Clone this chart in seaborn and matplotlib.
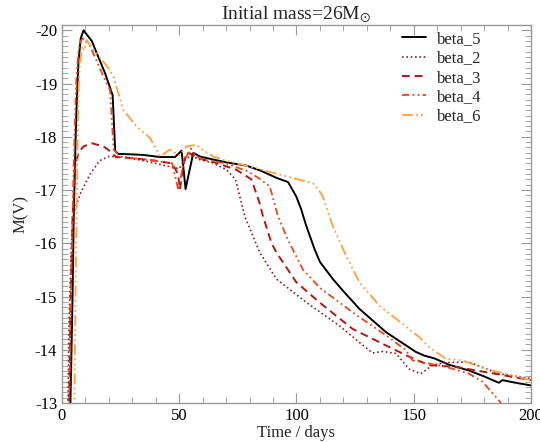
import numpy as np
import pandas as pd
import matplotlib
matplotlib.use("Agg")
import matplotlib.pyplot as plt
from matplotlib.ticker import MultipleLocator
import seaborn as sns

# ---- data ----
beta_5_t = [3.5, 4.5, 5.0, 6.0, 7.0, 8.0, 9.2, 12.7, 15.5, 18.4, 21.6, 22.7, 24.0, 30, 34.7, 41.8, 48.2, 51.0, 52.7, 54.3, 56.0, 58.8, 70, 78.6, 85, 91.4, 96.4, 99.9, 102, 104, 107.7, 110, 115.5, 120, 126.8, 138.2, 150.9, 154.5, 158.7, 165, 173.6, 180, 186.3, 187.8, 193.5, 200]
beta_5_m = [-12.8, -15.0, -16.5, -18.3, -19.4, -19.85, -20.0, -19.8, -19.5, -19.19, -18.78, -17.73, -17.68, -17.67, -17.66, -17.62, -17.62, -17.74, -17.02, -17.35, -17.7, -17.63, -17.52, -17.46, -17.36, -17.23, -17.15, -16.88, -16.64, -16.35, -15.89, -15.65, -15.33, -15.1, -14.77, -14.33, -13.96, -13.89, -13.84, -13.72, -13.61, -13.5, -13.38, -13.43, -13.38, -13.33]

beta_2_t = [2.5, 3.0, 4.0, 5.2, 8, 12, 16, 20, 25, 35, 45, 50, 52, 55, 58, 64.3, 70.2, 74, 76, 77.9, 84.3, 91.4, 104.2, 118.3, 126.8, 132.5, 136.7, 142.4, 148, 153, 158, 163.7, 173.6, 186.3, 200]
beta_2_m = [-12.8, -14.5, -16.0, -16.6, -16.95, -17.3, -17.55, -17.63, -17.63, -17.55, -17.45, -17.4, -17.55, -17.65, -17.58, -17.51, -17.38, -17.2, -16.85, -16.51, -15.83, -15.33, -14.89, -14.45, -14.14, -13.94, -13.97, -13.93, -13.64, -13.55, -13.71, -13.76, -13.77, -13.55, -13.46]

beta_3_t = [3.0, 3.5, 4.5, 5.5, 7, 9.2, 12.7, 17.7, 20.5, 23, 30, 40, 47, 49.5, 50.3, 51.5, 53, 55, 58, 65, 74.4, 80.8, 84.3, 85.7, 89.3, 91.4, 99.9, 109.8, 124, 138.2, 148, 156.6, 167.9, 180.7, 200]
beta_3_m = [-12.8, -14.5, -16.5, -17.4, -17.7, -17.82, -17.88, -17.82, -17.73, -17.62, -17.6, -17.55, -17.5, -17.3, -17.01, -17.4, -17.7, -17.68, -17.6, -17.52, -17.38, -17.2, -16.75, -16.51, -16.01, -15.83, -15.27, -14.89, -14.39, -14.08, -13.87, -13.71, -13.68, -13.58, -13.43]

beta_4_t = [3.0, 4.0, 5.0, 6.0, 7.0, 8.0, 9.0, 12, 15, 18, 20.5, 22.0, 25, 30, 40, 47, 49.6, 50.5, 52, 55, 57, 60, 70, 79.3, 84, 88.6, 92.1, 96.3, 102.7, 109.8, 124, 138.2, 146.7, 149.5, 156.6, 163.7, 173.6, 179.3, 186.3, 188]
beta_4_m = [-12.8, -15.5, -17.5, -19.0, -19.6, -19.8, -19.85, -19.7, -19.4, -19.1, -18.88, -17.76, -17.62, -17.6, -17.55, -17.5, -17.0, -17.2, -17.55, -17.78, -17.65, -17.57, -17.5, -17.35, -17.22, -17.07, -16.51, -16.07, -15.51, -15.17, -14.7, -14.27, -13.99, -13.8, -13.74, -13.68, -13.55, -13.4, -13.05, -12.95]

beta_6_t = [5.2, 6.0, 7.0, 7.5, 8.5, 9.5, 10.5, 12, 14.9, 20.5, 21.9, 26.2, 31.9, 37.5, 41.1, 41.8, 46, 50, 53.1, 57.4, 60, 64.5, 70, 82.9, 92.8, 107, 109.8, 111.2, 115.5, 121.2, 126.8, 135.3, 148, 152.3, 156.6, 163.7, 170.7, 180.7, 200]
beta_6_m = [-12.8, -16.0, -18.8, -19.3, -19.7, -19.62, -19.82, -19.72, -19.56, -19.25, -19.13, -18.5, -18.19, -17.98, -17.7, -17.63, -17.76, -17.65, -17.82, -17.85, -17.75, -17.63, -17.55, -17.41, -17.29, -17.13, -16.98, -16.88, -16.32, -15.76, -15.27, -14.83, -14.39, -14.24, -14.05, -13.83, -13.8, -13.64, -13.43]

labels = ["beta_5", "beta_2", "beta_3", "beta_4", "beta_6"]
series = [(beta_5_t, beta_5_m), (beta_2_t, beta_2_m), (beta_3_t, beta_3_m),
          (beta_4_t, beta_4_m), (beta_6_t, beta_6_m)]

colors = ["#000000", "#8b2020", "#b31515", "#e8481a", "#ffa040"]
styles = ["-", (0, (1, 1.6)), (0, (4, 2.5)), (0, (4, 1.8, 1, 1.8, 1, 1.8)),
          (0, (6, 1.8, 1, 1.8, 1, 1.8, 1, 1.8))]
widths = [1.4, 1.2, 1.4, 1.3, 1.3]

sns.set_style("ticks")
plt.rcParams['font.family'] = ['Liberation Serif', 'DejaVu Serif']
plt.rcParams['mathtext.fontset'] = 'stix'
plt.rcParams['axes.unicode_minus'] = False

fig = plt.figure(figsize=(5.4, 4.42), dpi=100)
ax = fig.add_axes([0.1148, 0.0882, 0.9833 - 0.1148, 0.9434 - 0.0882])

for lab, (t, m), c, ls, lw in zip(labels, series, colors, styles, widths):
    df = pd.DataFrame({"t": t, "m": m})
    sns.lineplot(data=df, x="t", y="m", ax=ax, color=c, linestyle=ls,
                 linewidth=lw, label=lab, sort=False, estimator=None)

ax.set_xlim(0, 200)
ax.set_ylim(-13, -20.1)
ax.xaxis.set_major_locator(MultipleLocator(50))
ax.xaxis.set_minor_locator(MultipleLocator(10))
ax.yaxis.set_major_locator(MultipleLocator(1))
ax.yaxis.set_minor_locator(MultipleLocator(0.1))
ax.tick_params(which="both", direction="in", top=True, right=True,
               color="#999999", labelsize=12, labelcolor="black")
ax.tick_params(which="major", length=7, width=0.8)
ax.tick_params(which="minor", length=4, width=0.6)
for s in ax.spines.values():
    s.set_color("#999999")
    s.set_linewidth(1.0)

ax.set_xlabel("Time / days", fontsize=12, labelpad=1)
ax.set_ylabel("M(V)", fontsize=12, labelpad=4)
ax.set_title(r"Initial mass=26M$_{\odot}$", fontsize=14, pad=4)

leg = ax.legend(loc="upper right", frameon=False, fontsize=12,
                handlelength=1.45, handletextpad=0.65, labelspacing=0.2,
                bbox_to_anchor=(0.915, 1.01), borderaxespad=0.2)

fig.savefig("out.png", dpi=100)
